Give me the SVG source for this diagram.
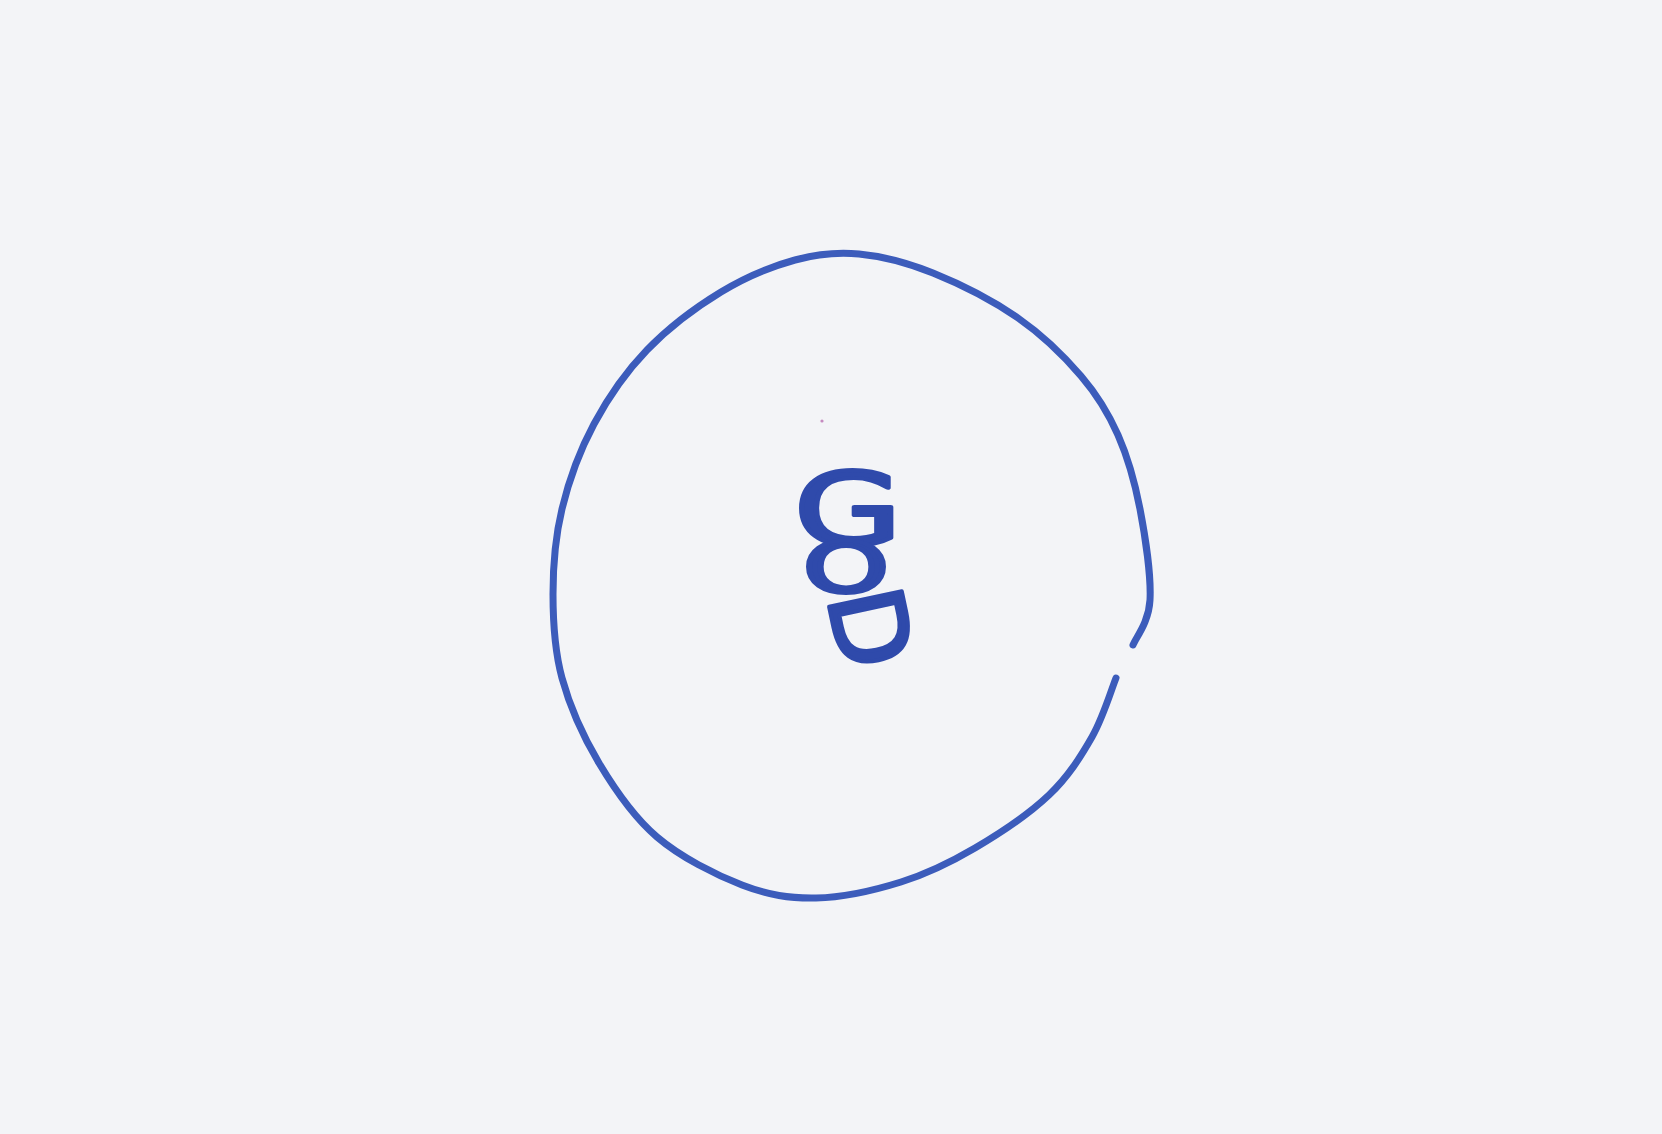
<svg xmlns="http://www.w3.org/2000/svg" width="1662" height="1134" viewBox="0 0 1662 1134">
<style>
.ring{fill:none;stroke:#3c5cbb;stroke-width:7;stroke-linecap:round;stroke-linejoin:round}
.label{font-family:"DejaVu Sans",sans-serif;font-size:100px;fill:#2f4aab;stroke:#2f4aab;stroke-width:4;stroke-linejoin:round}
</style>
<rect x="0" y="0" width="1662" height="1134" fill="#f3f4f7"/>
<g id="god">
<path class="ring" d="M1116,678 C1112,687.8 1103.2,717.5 1092,737 C1080.8,756.5 1068.5,776.5 1049,795 C1029.5,813.5 999.7,833.5 975,848 C950.3,862.5 927.5,873.7 901,882 C874.5,890.3 842.5,897.5 816,898 C789.5,898.5 768.5,895.2 742,885 C715.5,874.8 680.8,857.3 657,837 C633.2,816.7 614.8,789.5 599,763 C583.2,736.5 569.7,706.2 562,678 C554.3,649.8 553,622.2 553,594 C553,565.8 555.2,537.3 562,509 C568.8,480.7 579.8,450.5 594,424 C608.2,397.5 625.8,372 647,350 C668.2,328 696.3,307 721,292 C745.7,277 772,266.3 795,260 C818,253.7 836,251.8 859,254 C882,256.2 906.5,262.3 933,273 C959.5,283.7 993.3,300.8 1018,318 C1042.7,335.2 1064.3,356.5 1081,376 C1097.7,395.5 1108.2,412.8 1118,435 C1127.8,457.2 1134.7,481.5 1140,509 C1145.3,536.5 1151.2,577.3 1150,600 C1148.8,622.7 1135.8,637.5 1133,645"/>
<text class="label"><tspan x="848" y="545" text-anchor="middle" textLength="108" lengthAdjust="spacingAndGlyphs">G</tspan><tspan x="846" y="592" font-size="70" text-anchor="middle" textLength="86" lengthAdjust="spacingAndGlyphs">O</tspan><tspan x="827" y="597" font-size="102" rotate="78">D</tspan></text>
</g>
<circle cx="822" cy="421" r="1.6" fill="#c58ac0"/>
<g id="connectors"></g>
</svg>
